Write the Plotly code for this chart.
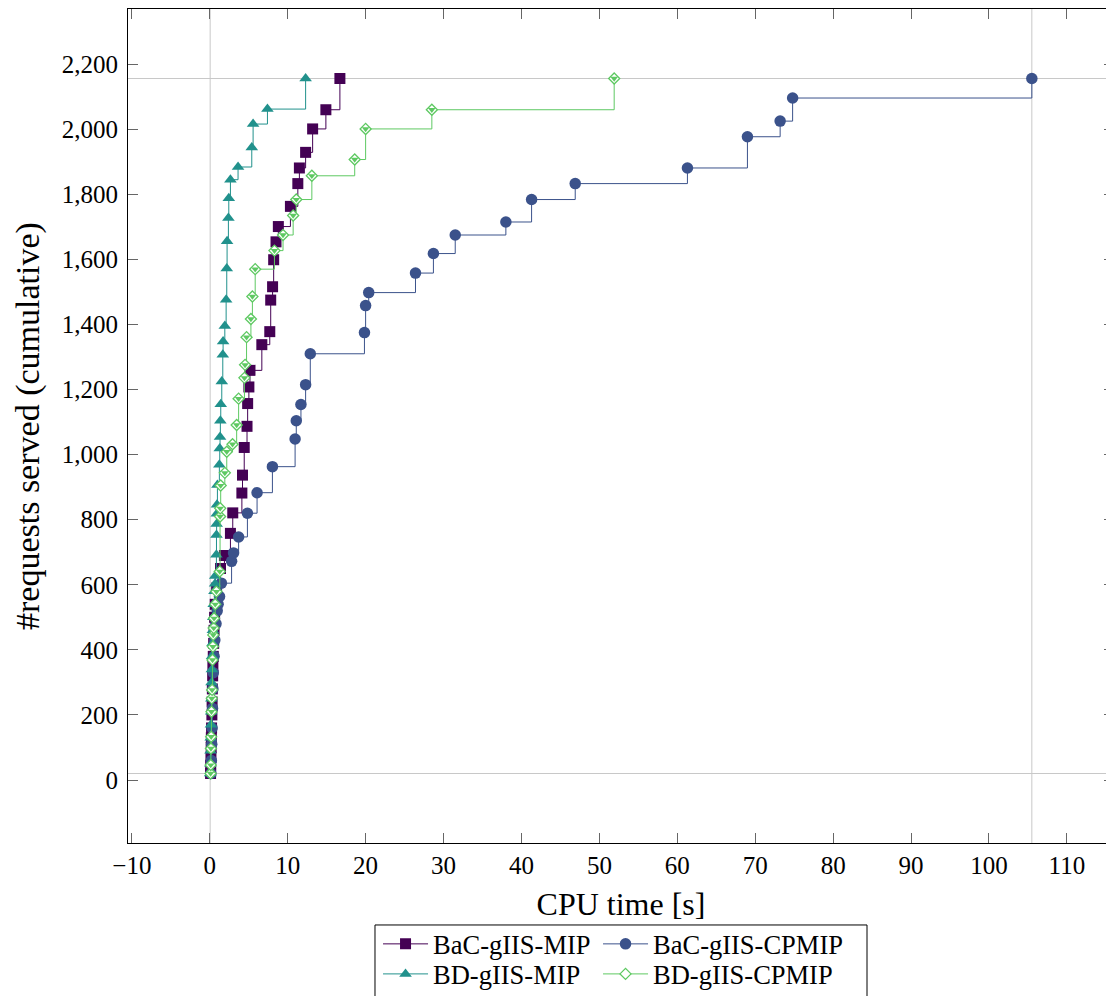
import plotly.graph_objects as go

# ---- data (CPU time [s], cumulative #requests served) ----
bac_mip_t = [0.10, 0.12, 0.15, 0.18, 0.20, 0.23, 0.27, 0.30, 0.33, 0.37, 0.40, 0.45, 0.50, 0.55, 0.62, 0.70, 0.88,
             1.38, 1.88, 2.65, 2.95, 4.12, 4.20, 4.42, 4.78, 4.86, 5.02, 5.16, 6.68, 7.70, 7.82, 8.06, 8.20, 8.50,
             8.80, 10.35, 11.30, 11.50, 12.30, 13.20, 14.90, 16.70]
bac_mip_n = [20, 45, 70, 100, 130, 160, 200, 240, 280, 320, 350, 380, 420, 460, 500, 540, 590,
             650, 690, 758, 821, 882, 937, 1022, 1087, 1157, 1208, 1259, 1338, 1378, 1475, 1516, 1599, 1654,
             1701, 1763, 1833, 1881, 1929, 2001, 2060, 2156]

bac_cp_t = [0.15, 0.20, 0.25, 0.30, 0.35, 0.40, 0.45, 0.55, 0.65, 0.80, 0.95, 1.07, 1.25, 1.49, 2.80, 3.05, 3.70,
            4.83, 6.07, 8.04, 10.95, 11.10, 11.70, 12.30, 12.90, 19.85, 20.00, 20.40, 26.40, 28.70, 31.50, 38.00,
            41.30, 46.90, 61.30, 69.00, 73.20, 74.80, 105.5]
bac_cp_n = [20, 60, 110, 160, 220, 280, 330, 380, 430, 480, 520, 540, 564, 605, 672, 698, 747,
            820, 883, 963, 1048, 1104, 1154, 1215, 1310, 1375, 1458, 1498, 1558, 1618, 1675, 1715,
            1784, 1833, 1881, 1977, 2025, 2096, 2156]

bd_mip_t = [0.05, 0.08, 0.10, 0.12, 0.15, 0.18, 0.20, 0.23, 0.27, 0.30, 0.35, 0.40, 0.45, 0.50, 0.60, 0.68, 0.70,
            0.85, 0.86, 0.88, 0.90, 0.92, 0.98, 1.23, 1.28, 1.32, 1.36, 1.41, 1.54, 1.67, 1.71, 1.93, 2.10, 2.18,
            2.22, 2.39, 2.44, 2.65, 3.63, 5.39, 5.56, 7.40, 12.30]
bd_mip_n = [20, 50, 90, 130, 170, 210, 250, 300, 340, 380, 420, 460, 500, 540, 580, 603, 627,
            692, 753, 787, 818, 846, 907, 969, 1019, 1054, 1104, 1155, 1225, 1307, 1348, 1395, 1476, 1572,
            1656, 1727, 1788, 1845, 1884, 1944, 2016, 2062, 2156]

bd_cp_t = [0.10, 0.12, 0.15, 0.18, 0.22, 0.26, 0.30, 0.35, 0.40, 0.45, 0.50, 0.55, 0.70, 0.85, 1.28, 1.32, 1.34,
           1.40, 1.93, 2.18, 2.92, 3.45, 3.70, 4.45, 4.53, 4.72, 5.28, 5.47, 5.83, 8.30, 9.40, 10.70, 11.10,
           13.10, 18.60, 20.00, 28.50, 51.90]
bd_cp_n = [20, 46, 97, 133, 210, 251, 277, 369, 410, 446, 467, 497, 540, 579, 641, 810, 835,
           905, 944, 1009, 1032, 1091, 1172, 1236, 1276, 1361, 1417, 1486, 1570, 1627, 1675, 1735, 1784,
           1857, 1907, 2001, 2060, 2156]

names = ["BaC-gIIS-MIP", "BaC-gIIS-CPMIP", "BD-gIIS-MIP", "BD-gIIS-CPMIP"]
colors = ["#440154", "#3b528b", "#21918c", "#5ec962"]

x_ticks = list(range(-10, 111, 10))
y_ticks = list(range(0, 2201, 200))

FONT = "Liberation Serif, Times New Roman, serif"

fig = go.Figure()

series = [(bac_mip_t, bac_mip_n), (bac_cp_t, bac_cp_n), (bd_mip_t, bd_mip_n), (bd_cp_t, bd_cp_n)]
markers = [
    dict(symbol="square", size=11, color=colors[0], line=dict(width=0)),
    dict(symbol="circle", size=11.5, color=colors[1], line=dict(width=0)),
    dict(symbol="triangle-up", size=11, color=colors[2], line=dict(width=0)),
    dict(symbol="diamond", size=8.5, color="white", line=dict(width=1.3, color=colors[3])),
]
legends = ["legend", "legend", "legend2", "legend2"]
leg_widths = [160, 215, 160, 215]

for (t, n), name, c, mk, lg, lw in zip(series, names, colors, markers, legends, leg_widths):
    fig.add_trace(go.Scatter(
        x=t, y=n, name=name, mode="lines+markers",
        line=dict(color=c, width=1, shape="hv"),
        marker=mk, legend=lg, legendwidth=lw,
    ))

# lower half fill of the BD-gIIS-CPMIP marks
fig.add_trace(go.Scatter(
    x=bd_cp_t, y=bd_cp_n, mode="markers", showlegend=False, hoverinfo="skip",
    marker=dict(symbol="triangle-down", size=6.6, color=colors[3], line=dict(width=0)),
))

all_t = bac_mip_t + bac_cp_t + bd_mip_t + bd_cp_t
all_n = bac_mip_n + bac_cp_n + bd_mip_n + bd_cp_n
tmin, tmax = min(all_t), max(all_t)
nmin, nmax = min(all_n), max(all_n)
# axis limits enlarged by 10% of the data span
x_range = [tmin - 0.1 * (tmax - tmin), tmax + 0.1 * (tmax - tmin)]
y_range = [nmin - 0.1 * (nmax - nmin), nmax + 0.1 * (nmax - nmin)]

grid = dict(color="#c8c8c8", width=1)
shapes = []
for xv in (tmin, tmax):
    shapes.append(dict(type="line", xref="x", yref="paper", x0=xv, x1=xv, y0=0, y1=1, line=grid, layer="below"))
for yv in (nmin, nmax):
    shapes.append(dict(type="line", xref="paper", yref="y", x0=0, x1=1, y0=yv, y1=yv, line=grid, layer="below"))
# legend frame
shapes.append(dict(type="rect", xref="paper", yref="paper", x0=0.2505, x1=0.7495, y0=-0.25, y1=-0.0983,
                   line=dict(color="black", width=1), fillcolor="white", layer="below"))

axis_common = dict(
    showline=True, linecolor="black", linewidth=1, mirror="allticks",
    ticks="inside", ticklen=10, tickcolor="#666666", tickwidth=1,
    showgrid=False, zeroline=False, automargin=False,
    tickfont=dict(family=FONT, size=25, color="black"),
)

leg_common = dict(orientation="h", x=0.5046, xanchor="center", yanchor="top",
                  itemwidth=45, bgcolor="rgba(0,0,0,0)", borderwidth=0,
                  font=dict(family=FONT, size=26.5, color="black"), tracegroupgap=0)

# plot area runs past the right edge of the window, as in the reference
fig.update_layout(
    width=1114, height=996,
    margin=dict(l=128, r=0, t=9, b=153, autoexpand=False),
    paper_bgcolor="white", plot_bgcolor="white",
    shapes=shapes,
    xaxis=dict(range=x_range, tickvals=x_ticks,
               title=dict(text="CPU time [s]", font=dict(family=FONT, size=32, color="black"), standoff=14),
               **axis_common),
    yaxis=dict(range=y_range, tickvals=y_ticks, tickformat=",d", ticklabelstandoff=4,
               **axis_common),
    annotations=[dict(text="#requests served (cumulative)", xref="paper", yref="paper",
                      x=-0.1014, y=0.5, xanchor="center", yanchor="middle", textangle=-90,
                      showarrow=False, font=dict(family=FONT, size=34, color="black"))],
    legend=dict(y=-0.0925, **leg_common),
    legend2=dict(y=-0.1285, **leg_common),
)

page_css = ("document.documentElement.style.overflow='hidden';"
            "document.body.style.overflow='hidden';"
            "document.body.style.margin='0';")

fig.write_html("out.html", post_script=page_css, config={"displayModeBar": False})
